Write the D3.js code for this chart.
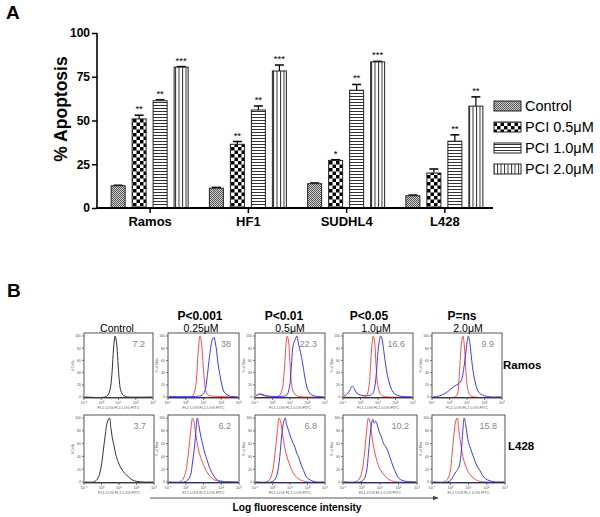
<!DOCTYPE html>
<html><head><meta charset="utf-8">
<script src="https://cdn.jsdelivr.net/npm/d3@7"></script>
<style>body{margin:0;background:#fff}svg{display:block}text{font-family:"Liberation Sans",Arial,sans-serif}</style>
</head><body>
<script>
// ---------- Panel A data ----------
const categories = ["Ramos", "HF1", "SUDHL4", "L428"];
const seriesNames = ["Control", "PCI 0.5\u03bcM", "PCI 1.0\u03bcM", "PCI 2.0\u03bcM"];
const controlVals = [12.7, 11.3, 13.9, 7.0];
const pci05Vals = [50.9, 36.4, 27.2, 20.0];
const pci10Vals = [61.3, 56.0, 67.3, 38.2];
const pci20Vals = [80.5, 78.3, 83.5, 58.2];
const controlErr = [13.0, 11.8, 14.3, 7.4];
const pci05Err = [53.0, 38.0, 27.6, 22.3];
const pci10Err = [61.8, 58.3, 70.6, 41.8];
const pci20Err = [80.8, 81.7, 83.8, 63.5];
const controlStars = ["", "", "", ""];
const pci05Stars = ["**", "**", "*", ""];
const pci10Stars = ["**", "**", "**", "**"];
const pci20Stars = ["***", "***", "***", "**"];
const yTicks = [0, 25, 50, 75, 100];

// ---------- Panel B data ----------
const doseLabels = ["Control", "0.25\u03bcM", "0.5\u03bcM", "1.0\u03bcM", "2.0\u03bcM"];
const pLabels = ["", "P<0.001", "P<0.01", "P<0.05", "P=ns"];
const rowNames = ["Ramos", "L428"];
const ramosPct = ["7.2", "38", "22.3", "16.6", "9.9"];
const l428Pct = ["3.7", "6.2", "6.8", "10.2", "15.8"];
const histYTicks = [0, 20, 40, 60, 80, 100];
const histXTicks = ["10\u207b\u00b9", "10\u2070", "10\u00b9", "10\u00b2", "10\u00b3"];
const histXTitle = "FL1 LOG  FL1 LOG  FITC";

// curves: [channel %, % of max]
const ramosControl = [[0,0],[30,0],[34,3],[37,10],[40,35],[42,70],[44,95],[45,100],[47,90],[49,60],[51,30],[53,12],[56,4],[60,1],[65,0],[100,0]];
const ramosRed025 = [[0,0],[32,0],[36,5],[39,20],[41,50],[43,85],[45,100],[47,90],[49,60],[51,30],[53,12],[56,4],[60,2],[70,1],[100,0]];
const ramosBlue025 = [[0,1],[40,1],[48,3],[52,10],[55,30],[58,60],[61,85],[63,95],[65,98],[67,90],[69,75],[71,55],[74,35],[77,18],[80,8],[85,3],[90,1],[100,0]];
const ramosRed05 = [[0,2],[5,4],[10,3],[15,1],[30,0],[35,3],[39,15],[42,50],[44,85],[46,100],[48,90],[50,55],[52,25],[55,8],[60,2],[70,0],[100,0]];
const ramosBlue05 = [[0,2],[5,5],[10,4],[15,2],[35,1],[45,3],[49,15],[52,50],[54,80],[56,90],[58,95],[60,100],[62,90],[64,80],[67,65],[70,45],[73,25],[76,12],[80,5],[85,2],[100,0]];
const ramosRed10 = [[0,0],[30,0],[34,4],[37,20],[39,50],[41,85],[43,100],[45,90],[47,55],[49,25],[52,8],[56,2],[65,0],[100,0]];
const ramosBlue10 = [[0,2],[5,5],[9,12],[12,18],[15,14],[19,6],[25,3],[35,2],[42,5],[45,15],[48,45],[50,75],[52,92],[54,100],[56,95],[58,80],[61,55],[64,35],[68,18],[72,8],[78,3],[85,1],[100,0]];
const ramosRed20 = [[0,0],[32,0],[36,5],[38,25],[40,60],[42,90],[44,100],[46,85],[48,50],[50,20],[53,6],[57,1],[100,0]];
const ramosBlue20 = [[0,0],[10,2],[18,6],[25,12],[32,18],[38,22],[42,28],[45,45],[48,70],[50,90],[52,100],[54,90],[56,70],[58,50],[60,35],[63,20],[66,10],[70,5],[76,2],[85,0],[100,0]];
const l428Control = [[0,0],[12,0],[16,2],[20,8],[24,25],[27,50],[30,75],[32,90],[34,97],[36,100],[38,85],[40,70],[43,55],[46,40],[50,28],[54,20],[58,14],[62,10],[66,6],[70,3],[76,1],[85,0],[100,0]];
const l428Red025 = [[0,0],[15,0],[20,4],[24,15],[27,35],[30,65],[32,85],[34,100],[36,95],[38,80],[41,60],[44,45],[48,32],[52,22],[56,14],[60,8],[65,4],[72,1],[100,0]];
const l428Blue025 = [[0,0],[22,0],[27,3],[31,10],[34,30],[37,55],[39,80],[41,100],[43,90],[46,72],[49,58],[52,45],[55,35],[58,25],[62,15],[66,8],[70,3],[78,1],[100,0]];
const l428Red05 = [[0,0],[15,0],[20,4],[24,15],[28,45],[31,75],[34,100],[36,95],[39,75],[42,55],[46,38],[50,25],[55,14],[60,7],[66,3],[75,0],[100,0]];
const l428Blue05 = [[0,0],[22,0],[27,3],[31,12],[35,40],[38,75],[41,95],[43,100],[45,90],[48,80],[51,70],[54,62],[57,55],[60,45],[63,38],[66,28],[70,18],[74,8],[80,3],[88,0],[100,0]];
const l428Red10 = [[0,0],[15,0],[20,3],[24,12],[28,40],[31,75],[34,100],[36,95],[39,70],[42,50],[46,32],[50,20],[55,12],[60,6],[66,2],[75,0],[100,0]];
const l428Blue10 = [[0,0],[22,0],[27,3],[31,15],[34,45],[37,80],[40,98],[42,92],[44,95],[46,90],[49,78],[52,70],[55,60],[58,55],[61,48],[64,38],[68,25],[72,14],[76,6],[82,2],[100,0]];
const l428Red20 = [[0,0],[15,0],[20,4],[24,15],[27,45],[30,80],[32,95],[34,100],[36,85],[39,60],[42,40],[46,25],[50,15],[55,8],[60,4],[66,1],[100,0]];
const l428Blue20 = [[0,0],[20,0],[25,3],[28,8],[31,14],[34,18],[37,25],[40,50],[42,80],[44,100],[46,90],[48,75],[50,62],[53,52],[56,42],[59,33],[62,25],[66,18],[70,10],[74,5],[80,2],[88,0],[100,0]];

// ---------- layout ----------
const W = 600, H = 517;
const FONT = '"Liberation Sans",Arial,sans-serif';
const svg = d3.select("body").append("svg").attr("width", W).attr("height", H);
const defs = svg.append("defs");

// patterns
const pCtrl = defs.append("pattern").attr("id","pCtrl").attr("patternUnits","userSpaceOnUse").attr("width",2).attr("height",2);
pCtrl.append("rect").attr("width",2).attr("height",2).attr("fill","#d0d0d0");
pCtrl.append("rect").attr("width",1).attr("height",1).attr("fill","#555");
pCtrl.append("rect").attr("x",1).attr("y",1).attr("width",1).attr("height",1).attr("fill","#555");
const pChk = defs.append("pattern").attr("id","pChk").attr("patternUnits","userSpaceOnUse").attr("width",7).attr("height",7);
pChk.append("rect").attr("width",7).attr("height",7).attr("fill","#fff");
pChk.append("rect").attr("width",3.5).attr("height",3.5).attr("fill","#000");
pChk.append("rect").attr("x",3.5).attr("y",3.5).attr("width",3.5).attr("height",3.5).attr("fill","#000");
const pH = defs.append("pattern").attr("id","pH").attr("patternUnits","userSpaceOnUse").attr("width",4).attr("height",3);
pH.append("rect").attr("width",4).attr("height",3).attr("fill","#fff");
pH.append("rect").attr("y",0).attr("width",4).attr("height",1).attr("fill","#333");
const pV = defs.append("pattern").attr("id","pV").attr("patternUnits","userSpaceOnUse").attr("width",3.5).attr("height",4);
pV.append("rect").attr("width",3.5).attr("height",4).attr("fill","#fff");
pV.append("rect").attr("x",0).attr("width",1).attr("height",4).attr("fill","#333");
const fills = ["url(#pCtrl)","url(#pChk)","url(#pH)","url(#pV)"];

// ---------- Panel A ----------
svg.append("text").attr("x",6).attr("y",19).attr("font-size",19).attr("font-weight","bold").text("A");

const x0 = d3.scaleBand().domain(categories).range([101, 494]);
const x1 = d3.scaleBand().domain(seriesNames).range([-39, 38]).paddingInner(1/3).paddingOuter(0);
const y = d3.scaleLinear().domain([0, 100]).range([208, 33]);

const series = [
  {name: seriesNames[0], vals: controlVals, err: controlErr, stars: controlStars},
  {name: seriesNames[1], vals: pci05Vals, err: pci05Err, stars: pci05Stars},
  {name: seriesNames[2], vals: pci10Vals, err: pci10Err, stars: pci10Stars},
  {name: seriesNames[3], vals: pci20Vals, err: pci20Err, stars: pci20Stars}
];

const gA = svg.append("g");
series.forEach((s, si) => {
  categories.forEach((c, ci) => {
    const cx = x0(c) + x0.bandwidth()/2;
    const bx = cx + x1(s.name);
    const bw = x1.bandwidth();
    const v = s.vals[ci], e = s.err[ci];
    const mx = bx + bw/2;
    gA.append("line").attr("x1",mx).attr("x2",mx).attr("y1",y(v)).attr("y2",y(e)).attr("stroke","#000").attr("stroke-width",1.2);
    gA.append("line").attr("x1",mx-4.5).attr("x2",mx+4.5).attr("y1",y(e)).attr("y2",y(e)).attr("stroke","#000").attr("stroke-width",1.5);
    gA.append("rect").attr("x",bx).attr("y",y(v)).attr("width",bw).attr("height",y(0)-y(v))
      .attr("fill",fills[si]).attr("stroke","#222").attr("stroke-width",1);
    if (s.stars[ci]) {
      gA.append("text").attr("x",mx).attr("y",y(e)-3).attr("text-anchor","middle")
        .attr("font-size",9.5).text(s.stars[ci]);
    }
  });
});

// axes
const yAxis = d3.axisLeft(y).tickValues(yTicks).tickSize(5).tickPadding(2);
const gy = svg.append("g").attr("transform","translate(97,0)").call(yAxis);
gy.select(".domain").attr("stroke-width",1.6).attr("d","M0,33V208");
gy.selectAll(".tick line").attr("stroke-width",1.5);
gy.selectAll(".tick text").attr("font-size",12).attr("font-weight","bold").attr("font-family",FONT).attr("fill","#000");

const xAxis = d3.axisBottom(x0).tickSize(5).tickPadding(4);
const gx = svg.append("g").attr("transform","translate(0,208)").call(xAxis);
gx.select(".domain").attr("stroke-width",2).attr("d","M96,0H493");
gx.selectAll(".tick line").attr("stroke-width",1.5);
gx.selectAll(".tick text").attr("font-size",13).attr("font-weight","bold").attr("font-family",FONT).attr("fill","#000");

svg.append("text").attr("transform","translate(67,109) rotate(-90)").attr("text-anchor","middle")
  .attr("font-size",17.5).attr("font-weight","bold").text("% Apoptosis");

// legend
const legY = d3.scalePoint().domain(seriesNames).range([106, 169]);
seriesNames.forEach((n, i) => {
  svg.append("rect").attr("x",494).attr("y",legY(n)-5).attr("width",27).attr("height",10)
    .attr("fill",fills[i]).attr("stroke","#222").attr("stroke-width",1);
  svg.append("text").attr("x",525).attr("y",legY(n)+5).attr("font-size",14.5).text(n);
});

// ---------- Panel B ----------
svg.append("text").attr("x",7).attr("y",297).attr("font-size",19).attr("font-weight","bold").text("B");

const colLeft = [84, 168, 255, 343, 432];
const colRightTop = [153, 239, 325, 413, 502];
const colRightBot = [154, 239, 325, 417, 505];
const rowsLayout = [{top:333, bot:398}, {top:415, bot:483}];
const pctRows = [ramosPct, l428Pct];
const curves = [
  [[ramosControl], [ramosRed025, ramosBlue025], [ramosRed05, ramosBlue05], [ramosRed10, ramosBlue10], [ramosRed20, ramosBlue20]],
  [[l428Control], [l428Red025, l428Blue025], [l428Red05, l428Blue05], [l428Red10, l428Blue10], [l428Red20, l428Blue20]]
];
const curveColors = (ci, k) => ci === 0 ? "#333" : (k === 0 ? "#ff4a4a" : "#3a3aff");

rowsLayout.forEach((r, ri) => {
  doseLabels.forEach((d, ci) => {
    const left = colLeft[ci], right = ri === 0 ? colRightTop[ci] : colRightBot[ci];
    const hx = d3.scaleLinear().domain([0, 100]).range([left + 1, right - 1]);
    const hy = d3.scaleLinear().domain([0, 100]).range([r.bot - 1, r.top + 3]);
    const g = svg.append("g");
    curves[ri][ci].forEach((cv, k) => {
      g.append("path").datum(cv)
        .attr("d", d3.line().x(p => hx(p[0])).y(p => hy(p[1])).curve(d3.curveCatmullRom))
        .attr("fill","none").attr("stroke",curveColors(ci,k)).attr("stroke-width",1);
    });
    g.append("line").attr("x1",left).attr("x2",right).attr("y1",r.bot-0.5).attr("y2",r.bot-0.5)
      .attr("stroke", ci === 0 ? "#222" : "#101070").attr("stroke-width",1.2);
    g.append("rect").attr("x",left).attr("y",r.top).attr("width",right-left).attr("height",r.bot-r.top)
      .attr("fill","none").attr("stroke","#555").attr("stroke-width",1);
    histYTicks.forEach(t => {
      g.append("line").attr("x1",left-2).attr("x2",left).attr("y1",hy(t)).attr("y2",hy(t)).attr("stroke","#555").attr("stroke-width",0.8);
      g.append("text").attr("x",left-3).attr("y",hy(t)+1.3).attr("text-anchor","end").attr("font-size",3.5).attr("fill","#555").text(t);
    });
    g.append("text").attr("transform",`translate(${left-10},${(r.top+r.bot)/2}) rotate(-90)`).attr("text-anchor","middle")
      .attr("font-size",3.5).attr("fill","#555").text(ci === 0 ? "# Cells" : "% of Max");
    histXTicks.forEach((t, ti) => {
      const xx = left + (right-left) * ti / (histXTicks.length - 1);
      g.append("line").attr("x1",xx).attr("x2",xx).attr("y1",r.bot).attr("y2",r.bot+2).attr("stroke","#555").attr("stroke-width",0.8);
      g.append("text").attr("x",xx).attr("y",r.bot+6).attr("text-anchor","middle")
        .attr("font-size",4).attr("fill","#555").text(t);
    });
    g.append("text").attr("x",(left+right)/2).attr("y",r.bot+10.5).attr("text-anchor","middle")
      .attr("font-size",3.8).attr("fill","#555").text(histXTitle);
    g.append("text").attr("x",right-8).attr("y",r.top+14).attr("text-anchor","end")
      .attr("font-size",9).attr("fill","#888").text(pctRows[ri][ci]);
  });
});

// column titles
const titleCx = [117, 201, 290, 376, 468];
const pCx = [117, 200, 284, 369, 462];
doseLabels.forEach((d, ci) => {
  svg.append("text").attr("x",titleCx[ci]).attr("y",332).attr("text-anchor","middle")
    .attr("font-size",10.5).text(d);
  if (pLabels[ci]) {
    svg.append("text").attr("x",pCx[ci]).attr("y",320).attr("text-anchor","middle")
      .attr("font-size",12).attr("font-weight","bold").text(pLabels[ci]);
  }
});

// row labels
svg.append("text").attr("x",503).attr("y",369).attr("font-size",11.5).attr("font-weight","bold").text(rowNames[0]);
svg.append("text").attr("x",508).attr("y",450).attr("font-size",11.5).attr("font-weight","bold").text(rowNames[1]);

// arrow
defs.append("marker").attr("id","arr").attr("viewBox","0 0 10 10").attr("refX",9).attr("refY",5)
  .attr("markerWidth",5).attr("markerHeight",5).attr("orient","auto")
  .append("path").attr("d","M0,1L10,5L0,9Z").attr("fill","#444");
svg.append("line").attr("x1",150).attr("x2",438).attr("y1",498).attr("y2",498)
  .attr("stroke","#555").attr("stroke-width",1.2).attr("marker-end","url(#arr)");
svg.append("text").attr("x",297).attr("y",511).attr("text-anchor","middle")
  .attr("font-size",10.2).attr("font-weight","bold").text("Log fluorescence intensity");
</script>
</body></html>
